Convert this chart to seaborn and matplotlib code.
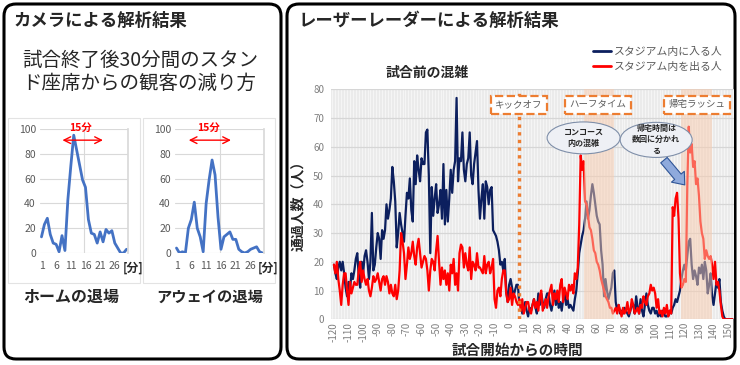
import numpy as np
import pandas as pd
import matplotlib
matplotlib.use("Agg")
import matplotlib.pyplot as plt
import seaborn as sns
from matplotlib.lines import Line2D
from matplotlib.patches import FancyBboxPatch, Rectangle, Ellipse, FancyArrowPatch

# ---- data ----
minutes = list(range(-120, 154))
enter_people = [
    19, 16, 14, 18, 20, 17, 20, 16, 11, 8,
    13, 10, 16, 14, 17, 21, 23, 15, 11, 20,
    16, 22, 24, 20, 14, 20, 37, 17, 19, 25,
    30, 28, 21, 31, 28, 31, 40, 35, 38, 42,
    53, 48, 41, 25, 30, 37, 33, 30, 27, 36,
    44, 42, 49, 38, 34, 55, 47, 57, 52, 48,
    56, 54, 54, 65, 66, 50, 23, 46, 36, 42,
    47, 37, 40, 45, 35, 54, 33, 45, 34, 42,
    52, 44, 52, 55, 77, 48, 56, 55, 65, 52,
    48, 54, 56, 65, 50, 47, 54, 58, 62, 45,
    35, 42, 47, 35, 48, 46, 40, 45, 46, 31,
    30, 29, 27, 24, 19, 20, 17, 21, 10, 6,
    12, 14, 11, 8, 10, 12, 12, 5, 6, 2,
    4, 6, 3, 1, 4, 3, 5, 7, 4, 2,
    9, 5, 9, 6, 4, 7, 9, 9, 5, 3,
    6, 10, 5, 8, 4, 6, 3, 7, 9, 5,
    7, 4, 5, 4, 3, 7, 10, 16, 23, 26,
    29, 31, 35, 41, 35, 38, 43, 47, 44, 40,
    36, 34, 33, 24, 19, 8, 14, 10, 7, 9,
    11, 16, 17, 6, 3, 5, 2, 3, 2, 4,
    3, 2, 1, 3, 5, 5, 2, 8, 4, 2,
    7, 3, 1, 5, 9, 5, 3, 2, 4, 4,
    2, 3, 1, 2, 1, 3, 2, 1, 1, 2,
    3, 2, 4, 5, 7, 6, 8, 10, 14, 17,
    19, 17, 22, 27, 28, 19, 14, 17, 15, 12,
    18, 16, 19, 14, 20, 17, 9, 12, 16, 8,
    5, 9, 13, 11, 14, 6, 3, 1, 0, 0,
    0, 0, 0, 0,
]
exit_people = [
    19, 16, 20, 14, 10, 5, 12, 16, 16, 10,
    5, 13, 9, 11, 13, 12, 12, 17, 20, 13,
    17, 14, 12, 14, 10, 8, 11, 15, 13, 14,
    16, 13, 10, 14, 15, 12, 15, 13, 9, 12,
    9, 8, 12, 7, 10, 17, 30, 27, 23, 14,
    19, 25, 21, 23, 27, 22, 19, 25, 28, 23,
    18, 20, 22, 21, 17, 10, 17, 21, 20, 17,
    24, 29, 20, 12, 18, 14, 17, 12, 16, 10,
    19, 16, 21, 12, 16, 10, 23, 26, 25, 18,
    23, 19, 17, 25, 14, 20, 19, 17, 23, 18,
    18, 17, 16, 22, 16, 19, 20, 16, 18, 21,
    7, 4, 10, 11, 8, 14, 17, 17, 9, 6,
    7, 11, 5, 9, 8, 6, 5, 7, 3, 7,
    2, 4, 6, 6, 3, 2, 5, 7, 4, 6,
    3, 8, 10, 3, 5, 7, 4, 8, 10, 12,
    5, 9, 7, 10, 6, 12, 14, 6, 11, 9,
    7, 12, 10, 12, 9, 16, 14, 18, 33, 57,
    52, 55, 41, 40, 36, 32, 31, 28, 24, 23,
    20, 19, 17, 14, 12, 10, 8, 7, 6, 4,
    4, 2, 3, 4, 2, 5, 3, 1, 4, 2,
    3, 6, 2, 3, 7, 5, 2, 3, 4, 2,
    5, 4, 8, 6, 5, 8, 9, 12, 10, 11,
    9, 4, 7, 2, 3, 1, 4, 2, 5, 1,
    3, 2, 39, 36, 42, 44, 35, 16, 11, 12,
    14, 13, 46, 67, 58, 61, 53, 55, 47, 49,
    43, 34, 30, 28, 21, 24, 22, 21, 22, 19,
    14, 20, 12, 13, 10, 5, 1, 0, 0, 0,
    0, 0, 0, 0,
]
series_names = ['スタジアム内に入る人', 'スタジアム内を出る人']
x_ticks = list(range(-120, 151, 10))

camera_min = list(range(1, 31))
home_leave = [13, 23, 28, 15, 8, 7, 1, 14, 2, 43,
              70, 95, 83, 71, 59, 53, 27, 16, 15, 8,
              17, 9, 19, 16, 18, 8, 4, 0, 0, 3]
away_leave = [4, 0, 1, 0, 20, 27, 41, 20, 13, 1,
              40, 59, 75, 63, 29, 3, 13, 15, 17, 11,
              11, 3, 1, 0, 1, 3, 4, 5, 1, 0]
small_ticks = [1, 6, 11, 16, 21, 26]

kickoff = 7
halftime = (51, 72)
rush = (118, 139)

# ---- style ----
sns.set_theme(style="white")
plt.rcParams['font.family'] = ['Noto Sans CJK JP', 'DejaVu Sans']

navy = '#0c1f5e'
red = '#ff0000'
orange = '#ed7d31'
grey_txt = '#7f7f7f'

fig = plt.figure(figsize=(7.4, 3.65), dpi=100)

# background canvas in pixel coordinates
bg = fig.add_axes([0, 0, 1, 1])
bg.set_xlim(0, 740)
bg.set_ylim(365, 0)
bg.axis('off')
for x0, w in [(4, 277), (287, 448)]:
    bg.add_patch(FancyBboxPatch((x0, 4), w, 355, boxstyle='round,pad=0,rounding_size=12',
                                fc='white', ec='black', lw=2.2))
for x0 in [8, 143]:
    bg.add_patch(Rectangle((x0, 118), 132, 165, fc='white', ec='#e3e3e3', lw=0.8))

bg.text(14, 21, 'カメラによる解析結果', fontsize=12.5, fontweight='bold', va='center')
bg.text(299, 21, 'レーザーレーダーによる解析結果', fontsize=12.5, fontweight='bold', va='center')
bg.text(22, 60, '試合終了後30分間のスタン', fontsize=14, va='center')
bg.text(22, 83, 'ド座席からの観客の減り方', fontsize=14, va='center')
bg.text(71, 297, 'ホームの退場', fontsize=11.5, fontweight='bold', ha='center', va='center')
bg.text(210, 297, 'アウェイの退場', fontsize=11, fontweight='bold', ha='center', va='center')
bg.text(133, 268, '[分]', fontsize=8.5, fontweight='bold', ha='center', va='center')
bg.text(268, 268, '[分]', fontsize=8.5, fontweight='bold', ha='center', va='center')
bg.text(427, 73, '試合前の混雑', fontsize=10, fontweight='bold', ha='center', va='center')
bg.text(298, 202, '通過人数（人）', fontsize=10, fontweight='bold', rotation=90,
        ha='center', va='center')
bg.text(517, 350, '試合開始からの時間', fontsize=10.5, fontweight='bold', ha='center', va='center')

# ---- small camera charts ----
small = [
    ([40 / 740, 112 / 365, 88 / 740, 124 / 365], home_leave, (7.2, 22.9), 14.3),
    ([175 / 740, 112 / 365, 89 / 740, 124 / 365], away_leave, (4.2, 20.3), 11.7),
]
for pos, vals, (a0, a1), tx in small:
    a = fig.add_axes(pos)
    a.set_facecolor('white')
    sns.lineplot(x=camera_min, y=vals, ax=a, color='#4472c4', lw=2.0)
    a.set_xlim(0.5, 30.5)
    a.set_ylim(0, 100)
    a.set_xticks(small_ticks)
    a.set_yticks(range(0, 101, 20))
    a.set_xticks([15.5], minor=True)
    a.grid(axis='y', which='major', color='#d9d9d9', lw=0.8)
    a.grid(axis='x', which='minor', color='#d9d9d9', lw=0.8)
    a.tick_params(axis='both', which='both', length=0, labelsize=7.5, labelcolor='#595959')
    a.tick_params(axis='x', pad=6)
    a.tick_params(axis='y', pad=3)
    for s in a.spines.values():
        s.set_visible(False)
    a.spines['right'].set_visible(True)
    a.spines['right'].set_color('#d9d9d9')
    a.set_xlabel('')
    a.set_ylabel('')
    a.annotate('', xy=(a0, 91), xytext=(a1, 91),
               arrowprops=dict(arrowstyle='<->', color='red', lw=1.0), annotation_clip=False)
    a.text(tx, 101, '15分', color='red', fontsize=7.5, fontweight='bold',
           ha='center', va='center', clip_on=False)

# ---- laser radar chart ----
ax = fig.add_axes([331 / 740, 45.7 / 365, 403 / 740, 230 / 365])
ax.set_facecolor('#ebebeb')
df = pd.DataFrame({
    'minute': minutes * 2,
    'count': enter_people + exit_people,
    'series': [series_names[0]] * len(minutes) + [series_names[1]] * len(minutes),
})
sns.lineplot(data=df, x='minute', y='count', hue='series', hue_order=series_names,
             palette=[navy, red], lw=1.6, ax=ax, legend=False, zorder=2)
ax.set_xlim(-122, 154)
ax.set_ylim(0, 80)
ax.set_xticks(x_ticks)
ax.set_xticklabels([str(t) for t in x_ticks], rotation=90)
ax.set_yticks(range(0, 81, 10))
ax.set_xticks(np.arange(-121, 154, 2), minor=True)
ax.grid(axis='x', which='minor', color='#f8f8f8', lw=0.6, zorder=0)
ax.grid(axis='y', which='major', color='#d6d6d6', lw=0.9, zorder=0)
ax.tick_params(axis='both', which='both', length=0, labelsize=7, labelcolor=grey_txt)
ax.tick_params(axis='x', pad=2)
ax.tick_params(axis='y', pad=5)
ax.set_axisbelow(True)
for s in ax.spines.values():
    s.set_visible(False)
ax.set_xlabel('')
ax.set_ylabel('')

for lo, hi in [halftime, rush]:
    ax.axvspan(lo, hi, color='#f8cbad', alpha=0.5, lw=0, zorder=3)
ax.axvline(kickoff, color=orange, ls=(0, (1, 1.3)), lw=2.4, zorder=4)

box = dict(boxstyle='square,pad=0.45', fc='white', ec=orange, ls='--', lw=1.6)
ax.text(6.5, 74.6, 'キックオフ', fontsize=6.8, color='#595959', ha='center', va='center',
        bbox=box, zorder=6)
ax.text(61, 74.6, 'ハーフタイム', fontsize=6.8, color='#595959', ha='center', va='center',
        bbox=box, zorder=6)
ax.text(128.5, 74.6, '帰宅ラッシュ', fontsize=6.8, color='#595959', ha='center', va='center',
        bbox=box, zorder=6)

for cx, cy, w, h, label in [(51, 63.1, 50, 11.1, 'コンコース\n内の混雑'),
                            (100.7, 62.4, 49.3, 12.2, '帰宅時間は\n数回に分かれ\nる')]:
    ax.add_patch(Ellipse((cx, cy), w, h, fc='#eef0f5', ec='#7f8fa9', lw=0.8, zorder=6))
    ax.text(cx, cy, label, fontsize=5.8, fontweight='bold', ha='center', va='center',
            linespacing=1.3, zorder=7)
ax.add_patch(FancyArrowPatch((104.8, 56.1), (121.5, 46.0),
                             arrowstyle='simple,head_length=0.7,head_width=1.1,tail_width=0.55',
                             mutation_scale=11, fc='#8faadc', ec='#2f5597', lw=0.8, zorder=6))

handles = [Line2D([], [], color=navy, lw=2), Line2D([], [], color=red, lw=2)]
fig.legend(handles, series_names, loc='upper left', bbox_to_anchor=(593 / 740, 1 - 47 / 365),
           frameon=False, fontsize=7.8, labelcolor='#595959', handlelength=1.7,
           handletextpad=0.25, labelspacing=0.45, borderaxespad=0, borderpad=0)

fig.savefig('out.png', dpi=100)
